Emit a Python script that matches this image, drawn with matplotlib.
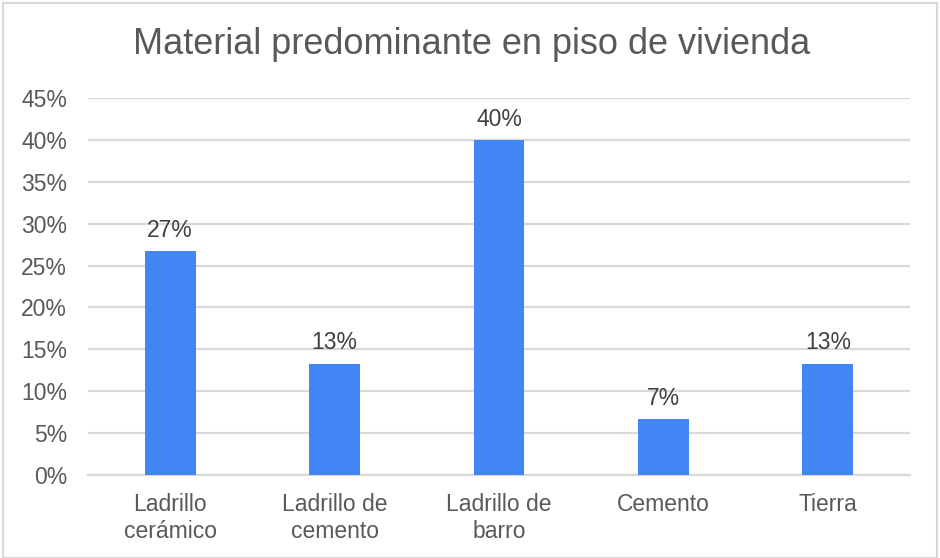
import matplotlib.pyplot as plt
from matplotlib.patches import Rectangle
from matplotlib.ticker import MultipleLocator, FuncFormatter

# data
categories = ['Ladrillo\ncerámico', 'Ladrillo de\ncemento', 'Ladrillo de\nbarro', 'Cemento', 'Tierra']
shares = [0.267, 0.133, 0.40, 0.067, 0.133]
value_labels = ['27%', '13%', '40%', '7%', '13%']

plt.rcParams['font.family'] = ['Liberation Sans', 'DejaVu Sans']

fig = plt.figure(figsize=(9.4, 5.58), dpi=100)
ax = fig.add_axes([88 / 940, 1 - 475 / 558, 822 / 940, 377 / 558])

x = range(len(categories))
bars = ax.bar(x, shares, width=0.31, color='#4285F4', zorder=3)
for b, lab in zip(bars, value_labels):
    ax.text(b.get_x() + b.get_width() / 2, b.get_height() + 0.011, lab,
            ha='center', va='bottom', fontsize=16.5, color='#404040')

ax.set_xlim(-0.5, len(categories) - 0.5)
ax.set_ylim(0, 0.45)
ax.yaxis.set_major_locator(MultipleLocator(0.05))
ax.yaxis.set_major_formatter(FuncFormatter(lambda v, _: f'{v * 100:.0f}%'))
ax.set_xticks(list(x))
ax.set_xticklabels(categories)
ax.tick_params(axis='both', length=0, labelsize=16.5, labelcolor='#595959')
ax.tick_params(axis='x', pad=13)
ax.tick_params(axis='y', pad=15)
for lab in ax.get_yticklabels():
    lab.set_horizontalalignment('right')

ax.grid(axis='y', color='#D9D9D9', linewidth=1.6, zorder=0)
for s in ['top', 'right', 'left']:
    ax.spines[s].set_visible(False)
ax.spines['bottom'].set_color('#D9D9D9')
ax.spines['bottom'].set_linewidth(1.6)

fig.text(472 / 940, 1 - 45 / 558, 'Material predominante en piso de vivienda',
         ha='center', va='center', fontsize=26, color='#595959')

fig.patches.append(Rectangle((3 / 940, 0), 934 / 940, 1 - 3 / 558, transform=fig.transFigure,
                             fill=False, edgecolor='#D9D9D9', linewidth=1.5))

fig.savefig('out.png', dpi=100)
